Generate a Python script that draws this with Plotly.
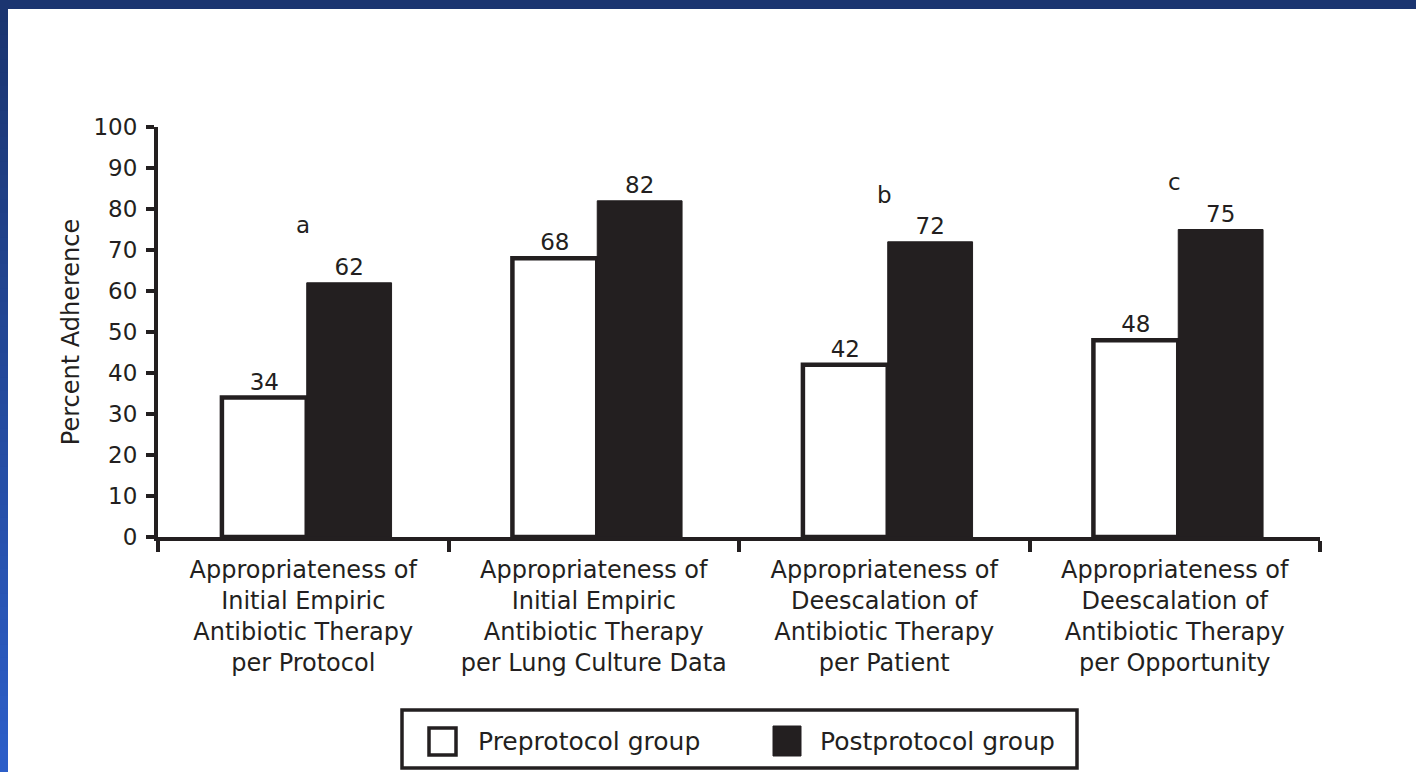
import plotly.graph_objects as go

# ---- data -------------------------------------------------------------
categories = [
    "Appropriateness of<br>Initial Empiric<br>Antibiotic Therapy<br>per Protocol",
    "Appropriateness of<br>Initial Empiric<br>Antibiotic Therapy<br>per Lung Culture Data",
    "Appropriateness of<br>Deescalation of<br>Antibiotic Therapy<br>per Patient",
    "Appropriateness of<br>Deescalation of<br>Antibiotic Therapy<br>per Opportunity",
]
pre_protocol = [34, 68, 42, 48]
post_protocol = [62, 82, 72, 75]
sig_marks = ["a", "", "b", "c"]
sig_heights = [76, 0, 83.5, 86.5]
series_names = ["Preprotocol group", "Postprotocol group"]

# ---- page geometry ----------------------------------------------------
W, H = 1416, 772
ML, MR, MT, MB = 158, 96, 127, 235
PW, PH = W - ML - MR, H - MT - MB
INK = "#231f20"
FONT = "DejaVu Sans"

BAR_W = 0.292      # width of one bar, in category units
SHIFT = 0.012      # pair sits slightly right of the category centre


def px(xpix):
    return (xpix - ML) / PW


def py(ypix):
    return 1 - (ypix - MT) / PH


fig = go.Figure()
fig.add_bar(
    x=categories, y=pre_protocol, name=series_names[0],
    width=BAR_W, offset=-BAR_W + SHIFT,
    marker=dict(color="white", line=dict(color=INK, width=4.5)),
    text=pre_protocol, textposition="outside", cliponaxis=False,
    textfont=dict(family=FONT, size=23, color=INK),
)
fig.add_bar(
    x=categories, y=post_protocol, name=series_names[1],
    width=BAR_W, offset=SHIFT,
    marker=dict(color=INK, line=dict(color=INK, width=1)),
    text=post_protocol, textposition="outside", cliponaxis=False,
    textfont=dict(family=FONT, size=23, color=INK),
)

# significance letters above the groups
for cat, mark, h in zip(categories, sig_marks, sig_heights):
    if mark:
        fig.add_annotation(x=cat, y=h, text=mark, showarrow=False,
                           font=dict(family=FONT, size=23, color=INK))

shapes = []
# blue frame: top band and left gradient band
shapes.append(dict(type="rect", xref="paper", yref="paper",
                   x0=px(0), x1=px(W), y0=py(9), y1=py(0),
                   fillcolor="#1b3570", line=dict(width=0), layer="above"))
top_rgb = (27, 53, 112)
bot_rgb = (44, 94, 200)
n = 60
for i in range(n):
    t = i / (n - 1)
    c = tuple(int(round(a + (b - a) * t)) for a, b in zip(top_rgb, bot_rgb))
    y0 = 9 + (H - 9) * i / n
    y1 = 9 + (H - 9) * (i + 1) / n + 1
    shapes.append(dict(type="rect", xref="paper", yref="paper",
                       x0=px(0), x1=px(8), y0=py(y1), y1=py(y0),
                       fillcolor="rgb(%d,%d,%d)" % c, line=dict(width=0), layer="above"))

# legend frame and swatches
shapes.append(dict(type="rect", xref="paper", yref="paper",
                   x0=px(402), x1=px(1077), y0=py(768), y1=py(710),
                   fillcolor="white", line=dict(color=INK, width=3.5)))
shapes.append(dict(type="rect", xref="paper", yref="paper",
                   x0=px(429), x1=px(456), y0=py(755), y1=py(728),
                   fillcolor="white", line=dict(color=INK, width=3.5)))
shapes.append(dict(type="rect", xref="paper", yref="paper",
                   x0=px(773), x1=px(801), y0=py(756), y1=py(726),
                   fillcolor=INK, line=dict(color=INK, width=1)))
fig.add_annotation(xref="paper", yref="paper", x=px(476), y=py(741),
                   xanchor="left", yanchor="middle", showarrow=False,
                   text=series_names[0], font=dict(family=FONT, size=25, color=INK))
fig.add_annotation(xref="paper", yref="paper", x=px(818), y=py(741),
                   xanchor="left", yanchor="middle", showarrow=False,
                   text=series_names[1], font=dict(family=FONT, size=25, color=INK))

fig.update_layout(
    width=W, height=H,
    margin=dict(l=ML, r=MR, t=MT, b=MB, pad=0),
    paper_bgcolor="white", plot_bgcolor="white",
    barmode="group", bargap=0.42, bargroupgap=0,
    showlegend=False,
    shapes=shapes,
    font=dict(family=FONT, color=INK),
)
fig.update_xaxes(
    range=[-0.5, 3.5], showline=True, linecolor=INK, linewidth=4,
    ticks="outside", tickson="boundaries", ticklen=11, tickwidth=4, tickcolor=INK,
    tickfont=dict(family=FONT, size=24, color=INK), ticklabelstandoff=8,
    showgrid=False, fixedrange=True,
)
fig.update_yaxes(
    range=[0, 100], dtick=10, showline=True, linecolor=INK, linewidth=4,
    ticks="outside", ticklen=8, tickwidth=4, tickcolor=INK,
    tickfont=dict(family=FONT, size=23, color=INK), ticklabelstandoff=4,
    showgrid=False, zeroline=False,
    title=dict(text="Percent Adherence", standoff=8,
               font=dict(family=FONT, size=24, color=INK)),
    fixedrange=True,
)

fig.write_html("out.html", config={"displayModeBar": False})
